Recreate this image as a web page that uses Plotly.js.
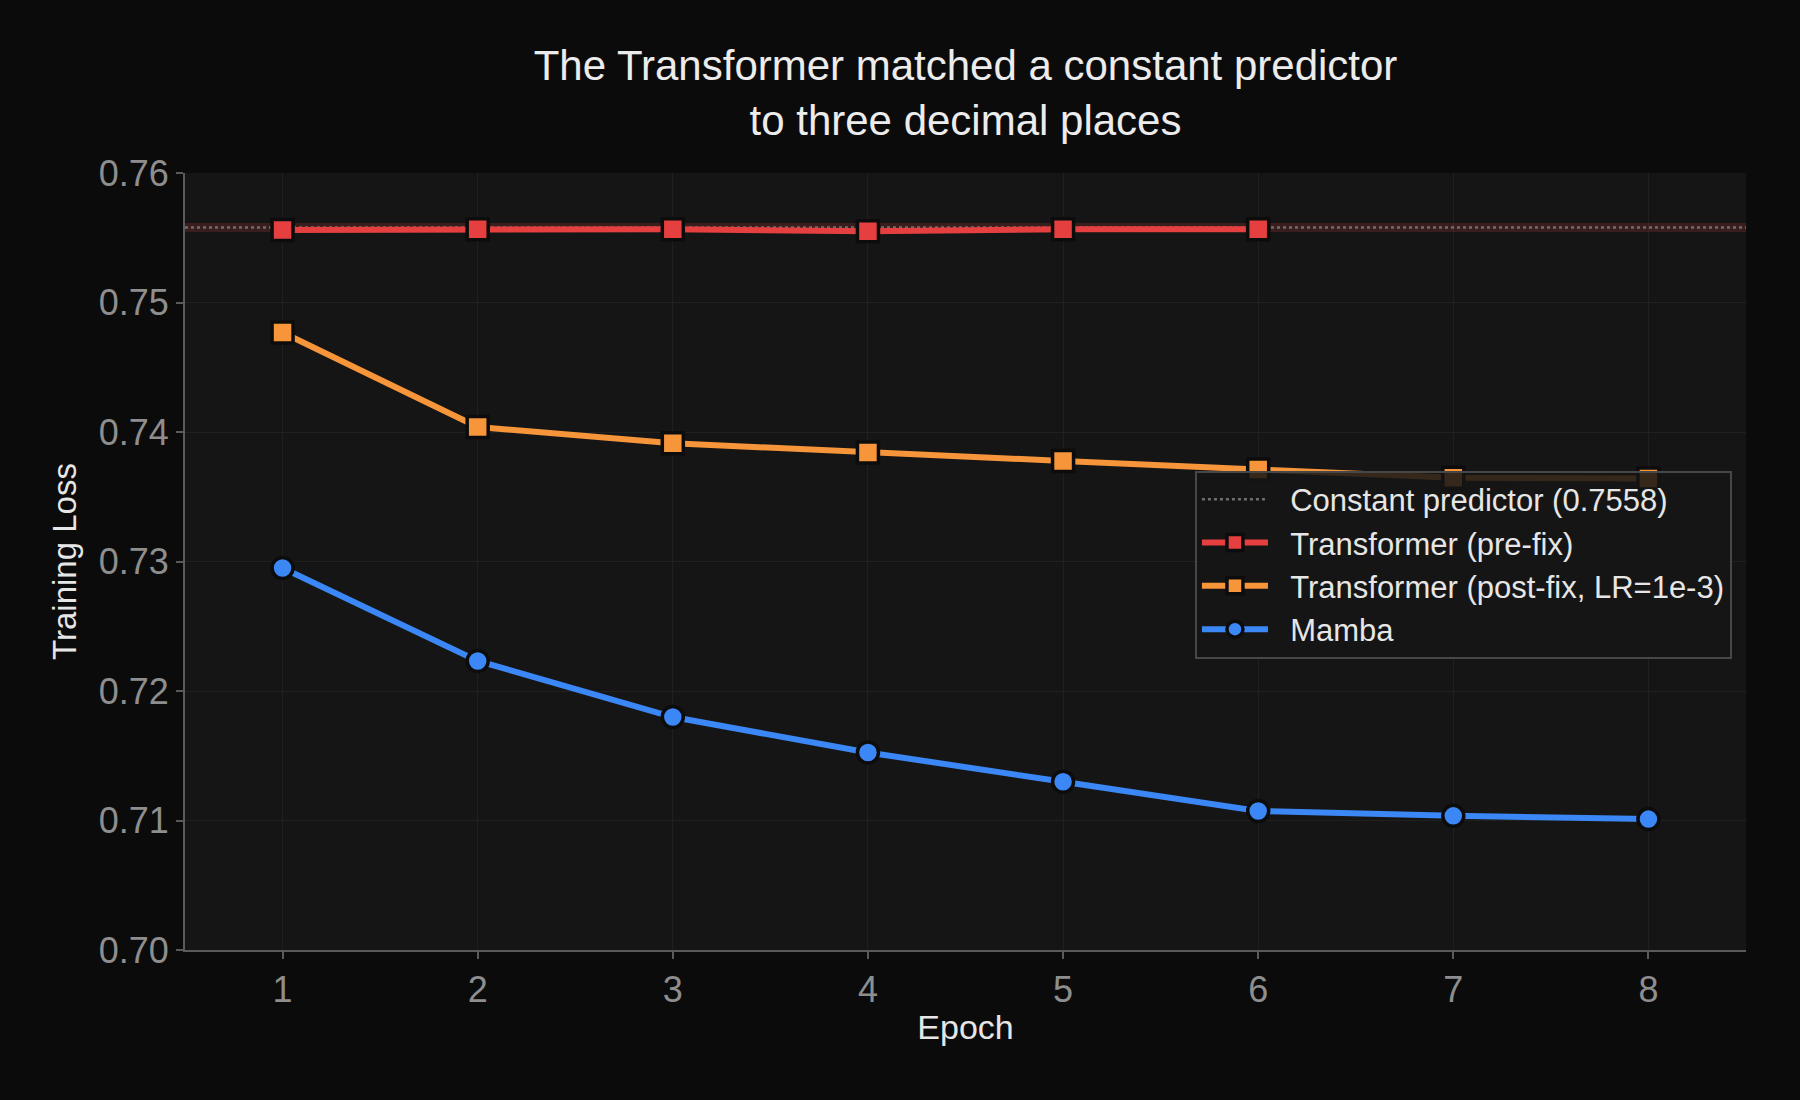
<!DOCTYPE html>
<html>
<head>
<meta charset="utf-8">
<script src="https://cdn.plot.ly/plotly-3.0.1.min.js"></script>
<style>
  html, body { margin: 0; padding: 0; background: #0b0b0b; }
  #chart { width: 1800px; height: 1100px; }
</style>
</head>
<body>
<div id="chart"></div>
<script>
var epochs = [1, 2, 3, 4, 5, 6, 7, 8];
var preFixLoss = [0.7556, 0.75565, 0.75565, 0.7555, 0.75565, 0.75565];
var postFixLoss = [0.74768, 0.74039, 0.73913, 0.73841, 0.73776, 0.7371, 0.73647, 0.7364];
var mambaLoss = [0.7295, 0.72232, 0.71799, 0.71525, 0.71299, 0.71073, 0.71036, 0.71011];
var constantLoss = 0.7558;
var xRange = [0.5, 8.5];
var yTicks = [0.70, 0.71, 0.72, 0.73, 0.74, 0.75, 0.76];

function makeGraph(divId){

    var edge = {color: '#0c0c0c', width: 3.5};
    // small gap between legend symbol and label
    var pad = '&nbsp;&nbsp;';

    var band = {
        x: xRange,
        y: [constantLoss, constantLoss],
        mode: 'lines',
        line: {color: 'rgba(229,64,64,0.18)', width: 9},
        showlegend: false,
        hoverinfo: 'skip'
    };
    var constLine = {
        x: xRange,
        y: [constantLoss, constantLoss],
        mode: 'lines',
        name: pad + 'Constant predictor (' + constantLoss.toFixed(4) + ')',
        line: {color: '#6e6e6e', width: 2.5, dash: 'dot'}
    };
    var trace1 = {
        x: epochs.slice(0, preFixLoss.length),
        y: preFixLoss,
        mode: 'lines+markers',
        name: pad + 'Transformer (pre-fix)',
        line: {color: '#e5403f', width: 6},
        marker: {symbol: 'square', size: 21, color: '#e5403f', line: edge}
    };
    var trace2 = {
        x: epochs,
        y: postFixLoss,
        mode: 'lines+markers',
        name: pad + 'Transformer (post-fix, LR=1e-3)',
        line: {color: '#f7953b', width: 6},
        marker: {symbol: 'square', size: 21, color: '#f7953b', line: edge}
    };
    var trace3 = {
        x: epochs,
        y: mambaLoss,
        mode: 'lines+markers',
        name: pad + 'Mamba',
        line: {color: '#3b87f5', width: 6},
        marker: {symbol: 'circle', size: 21, color: '#3b87f5', line: edge}
    };

    var layout = {
        width: 1800,
        height: 1100,
        paper_bgcolor: '#0b0b0b',
        plot_bgcolor: '#151515',
        font: {family: 'Liberation Sans, Arial, sans-serif', color: '#e6e6e6'},
        margin: {l: 185, r: 54, t: 173, b: 150},
        title: {
            text: 'The Transformer matched a constant predictor<br>to three decimal places',
            font: {size: 42, color: '#ececec'},
            x: 0.5, xref: 'paper', xanchor: 'center',
            y: 0.927, yref: 'container', yanchor: 'middle'
        },
        xaxis: {
            range: xRange,
            tickvals: epochs,
            ticks: 'outside', ticklen: 7, tickwidth: 2, tickcolor: '#5a5a5a',
            tickfont: {size: 36, color: '#8e8e8e'},
            showline: true, linecolor: '#5a5a5a', linewidth: 2,
            showgrid: true, gridcolor: '#202020', gridwidth: 1,
            zeroline: false,
            title: {text: 'Epoch', font: {size: 34, color: '#e6e6e6'}, standoff: 6}
        },
        yaxis: {
            range: [yTicks[0], yTicks[yTicks.length - 1]],
            tickvals: yTicks,
            tickformat: '.2f',
            ticks: 'outside', ticklen: 7, tickwidth: 2, tickcolor: '#5a5a5a',
            tickfont: {size: 36, color: '#8e8e8e'},
            showline: true, linecolor: '#5a5a5a', linewidth: 2,
            showgrid: true, gridcolor: '#202020', gridwidth: 1,
            zeroline: false,
            title: {text: 'Training Loss', font: {size: 33, color: '#e6e6e6'}, standoff: 12}
        },
        legend: {
            x: 0.991, y: 0.617, xanchor: 'right', yanchor: 'top',
            bgcolor: 'rgba(21,21,21,0.86)',
            bordercolor: '#474747', borderwidth: 2,
            font: {size: 31, color: '#e6e6e6'},
            itemwidth: 66,
            tracegroupgap: 0
        },
        showlegend: true
    };

    var config = {responsive: false, displayModeBar: false};
    var data = [band, constLine, trace1, trace2, trace3];

    Plotly.newPlot(divId, data, layout, config);

}

makeGraph('chart');
</script>
</body>
</html>
